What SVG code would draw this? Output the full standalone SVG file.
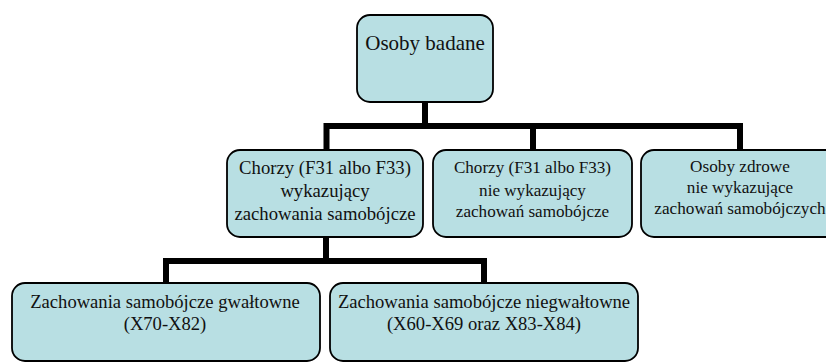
<svg xmlns="http://www.w3.org/2000/svg" width="826" height="363" viewBox="0 0 826 363">
  <style>
    .box { fill: #B8DFE3; stroke: #000; stroke-width: 1.8; }
    .t { fill: #111; text-anchor: middle; }
    .conn { fill: none; stroke: #000; stroke-width: 6; stroke-linejoin: miter; stroke-linecap: butt; }
  </style>
  <rect width="826" height="363" fill="#fff"/>
  <g id="connectors">
    <path class="conn" d="M425,101 V126"/>
    <path class="conn" d="M326.5,150 V126 H740 V150"/>
    <path class="conn" d="M533,126 V150"/>
    <path class="conn" d="M326,237 V261"/>
    <path class="conn" d="M166,283 V261 H484 V283"/>
  </g>
  <g font-family="Liberation Serif, DejaVu Serif, serif">
  <g id="root">
    <rect class="box" x="357" y="15" width="136" height="87" rx="13"/>
    <text class="t" x="425" y="50" font-size="21">Osoby badane</text>
  </g>
  <g id="chorzy-z">
    <rect class="box" x="227" y="150" width="196" height="87" rx="13"/>
    <text class="t" font-size="18.7"><tspan x="325" y="174.3">Chorzy (F31 albo F33)</tspan><tspan x="325" y="197.3">wykazujący</tspan><tspan x="325" y="220">zachowania samobójcze</tspan></text>
  </g>
  <g id="chorzy-nie">
    <rect class="box" x="433" y="150" width="199" height="87" rx="13"/>
    <text class="t" font-size="17.1"><tspan x="532.5" y="173.3">Chorzy (F31 albo F33)</tspan><tspan x="532.5" y="195.5">nie wykazujący</tspan><tspan x="532.5" y="217.3">zachowań samobójcze</tspan></text>
  </g>
  <g id="zdrowe">
    <rect class="box" x="641" y="150" width="200" height="87" rx="13"/>
    <text class="t" font-size="17.2"><tspan x="740" y="172.3">Osoby zdrowe</tspan><tspan x="740" y="193">nie wykazujące</tspan><tspan x="740" y="214">zachowań samobójczych</tspan></text>
  </g>
  <g id="gwaltowne">
    <rect class="box" x="12" y="283" width="308" height="78" rx="13"/>
    <text class="t" font-size="18.6"><tspan x="165" y="308.3">Zachowania samobójcze gwałtowne</tspan><tspan x="165" y="330">(X70-X82)</tspan></text>
  </g>
  <g id="niegwaltowne">
    <rect class="box" x="330" y="283" width="308" height="78" rx="13"/>
    <text class="t" font-size="18.6"><tspan x="484" y="308.3">Zachowania samobójcze niegwałtowne</tspan><tspan x="484" y="330">(X60-X69 oraz X83-X84)</tspan></text>
  </g>
  </g>
</svg>
